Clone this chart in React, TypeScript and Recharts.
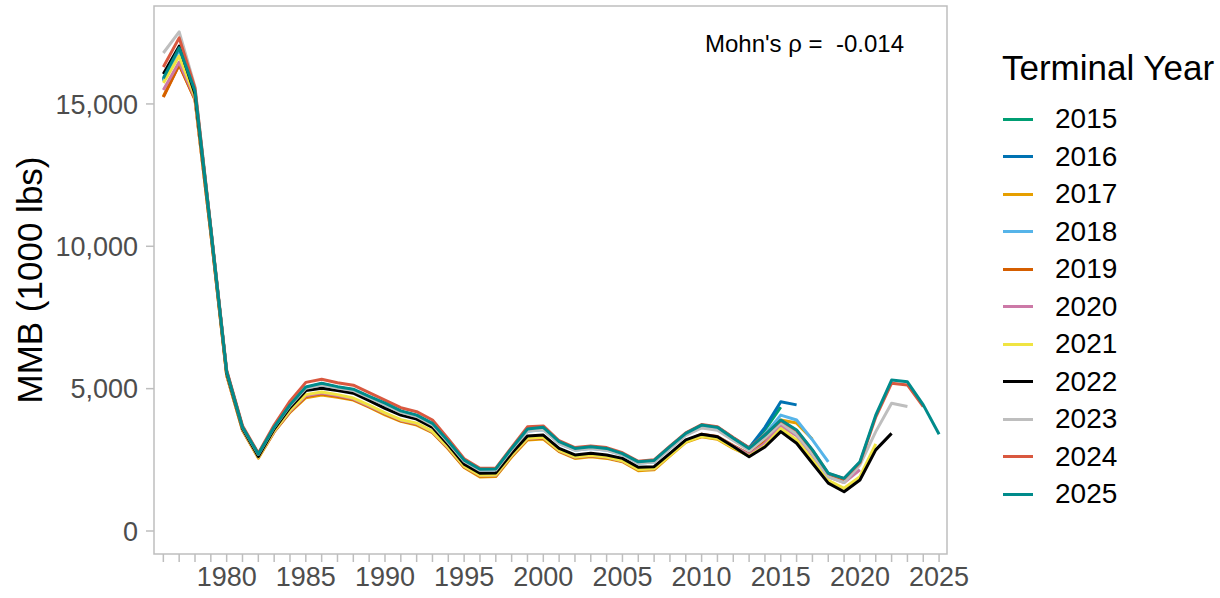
import React from 'react';
import { LineChart, Line, XAxis, YAxis, ReferenceArea } from 'recharts';

// years on the x axis
const years = [
  1976, 1977, 1978, 1979, 1980, 1981, 1982, 1983, 1984, 1985,
  1986, 1987, 1988, 1989, 1990, 1991, 1992, 1993, 1994, 1995,
  1996, 1997, 1998, 1999, 2000, 2001, 2002, 2003, 2004, 2005,
  2006, 2007, 2008, 2009, 2010, 2011, 2012, 2013, 2014, 2015,
  2016, 2017, 2018, 2019, 2020, 2021, 2022, 2023, 2024, 2025,
];
const xLabelYears = [1980, 1985, 1990, 1995, 2000, 2005, 2010, 2015, 2020, 2025];
const yTicks = [0, 5000, 10000, 15000];

// MMB estimates per terminal year (1000 lbs), starting 1976
const mmb2015 = [
  15820, 16930, 15430, 10590, 5590, 3640, 2690, 3640, 4410, 5030,
  5160, 5040, 4950, 4700, 4460, 4190, 4050, 3750, 3130, 2470,
  2150, 2160, 2880, 3550, 3610, 3120, 2880, 2940, 2880, 2700,
  2410, 2460, 2940, 3410, 3700, 3630, 3260, 2910, 3550, 4350,
];
const mmb2016 = [
  15850, 16950, 15450, 10600, 5600, 3650, 2700, 3650, 4420, 5040,
  5170, 5050, 4960, 4710, 4470, 4200, 4060, 3760, 3140, 2480,
  2160, 2170, 2890, 3560, 3620, 3130, 2890, 2950, 2890, 2710,
  2420, 2470, 2950, 3420, 3710, 3640, 3270, 2920, 3640, 4540,
  4430,
];
const mmb2017 = [
  15260, 16380, 15150, 10450, 5470, 3540, 2560, 3480, 4170, 4680,
  4780, 4700, 4600, 4350, 4080, 3850, 3720, 3450, 2880, 2230,
  1900, 1910, 2600, 3200, 3230, 2790, 2550, 2610, 2550, 2430,
  2120, 2150, 2640, 3110, 3310, 3220, 2900, 2650, 3200, 3900,
  3790, 3220,
];
const mmb2018 = [
  15800, 16900, 15400, 10580, 5590, 3630, 2680, 3620, 4380, 4980,
  5100, 4990, 4900, 4650, 4400, 4140, 4000, 3710, 3090, 2440,
  2120, 2130, 2840, 3500, 3560, 3070, 2840, 2900, 2840, 2670,
  2380, 2420, 2900, 3380, 3660, 3580, 3210, 2870, 3400, 4070,
  3900, 3200, 2430,
];
const mmb2019 = [
  15240, 16370, 15150, 10450, 5480, 3550, 2590, 3490, 4190, 4720,
  4820, 4730, 4620, 4370, 4110, 3870, 3750, 3470, 2900, 2250,
  1930, 1940, 2630, 3230, 3260, 2810, 2580, 2640, 2580, 2450,
  2150, 2180, 2680, 3160, 3400, 3320, 3000, 2700, 3130, 3750,
  3400, 2700, 1950, 1800,
];
const mmb2020 = [
  15490, 16470, 15200, 10480, 5490, 3560, 2600, 3500, 4210, 4750,
  4850, 4760, 4640, 4390, 4130, 3890, 3770, 3480, 2920, 2270,
  1950, 1960, 2650, 3250, 3280, 2820, 2590, 2650, 2590, 2460,
  2160, 2190, 2680, 3150, 3380, 3300, 2980, 2680, 3080, 3700,
  3350, 2650, 1900, 1700, 2150,
];
const mmb2021 = [
  15740, 16680, 15250, 10500, 5500, 3570, 2590, 3520, 4240, 4790,
  4880, 4790, 4670, 4420, 4150, 3910, 3790, 3500, 2940, 2280,
  1960, 1970, 2660, 3260, 3290, 2830, 2600, 2660, 2600, 2470,
  2160, 2190, 2660, 3130, 3330, 3250, 2930, 2630, 2990, 3600,
  3200, 2500, 1780, 1500, 1910, 3060,
];
const mmb2022 = [
  16050, 17030, 15350, 10550, 5550, 3600, 2620, 3580, 4330, 4930,
  5010, 4930, 4840, 4580, 4310, 4070, 3930, 3640, 3030, 2350,
  2030, 2040, 2730, 3340, 3370, 2900, 2670, 2730, 2670, 2550,
  2240, 2260, 2730, 3200, 3400, 3310, 2970, 2610, 2950, 3490,
  3080, 2380, 1680, 1380, 1790, 2850, 3430,
];
const mmb2023 = [
  16790, 17530, 15600, 10620, 5620, 3640, 2690, 3640, 4400, 5010,
  5130, 5020, 4930, 4680, 4430, 4170, 4020, 3730, 3110, 2450,
  2130, 2140, 2850, 3510, 3560, 3070, 2840, 2900, 2840, 2670,
  2380, 2420, 2890, 3360, 3620, 3540, 3180, 2820, 3260, 3800,
  3400, 2700, 1900, 1700, 2320, 3490, 4490, 4370,
];
const mmb2024 = [
  16300, 17320, 15550, 10650, 5650, 3700, 2730, 3720, 4560, 5220,
  5330, 5210, 5120, 4860, 4600, 4330, 4190, 3900, 3230, 2540,
  2200, 2210, 2940, 3660, 3690, 3170, 2930, 2990, 2930, 2750,
  2450, 2500, 2980, 3450, 3740, 3660, 3280, 2920, 3380, 3880,
  3530, 2840, 2020, 1840, 2400, 4000, 5190, 5130, 4370,
];
const mmb2025 = [
  15900, 16970, 15450, 10600, 5600, 3650, 2700, 3650, 4430, 5060,
  5190, 5070, 4980, 4730, 4490, 4220, 4070, 3780, 3150, 2490,
  2170, 2180, 2900, 3580, 3640, 3140, 2900, 2960, 2900, 2720,
  2430, 2480, 2960, 3430, 3720, 3640, 3260, 2900, 3370, 3900,
  3550, 2850, 2030, 1850, 2430, 4070, 5300, 5240, 4430, 3400,
];

const series = [
  { key: '2015', values: mmb2015, color: '#009E73' },
  { key: '2016', values: mmb2016, color: '#0072B2' },
  { key: '2017', values: mmb2017, color: '#E69F00' },
  { key: '2018', values: mmb2018, color: '#56B4E9' },
  { key: '2019', values: mmb2019, color: '#D55E00' },
  { key: '2020', values: mmb2020, color: '#CC79A7' },
  { key: '2021', values: mmb2021, color: '#F0E442' },
  { key: '2022', values: mmb2022, color: '#000000' },
  { key: '2023', values: mmb2023, color: '#BEBEBE' },
  { key: '2024', values: mmb2024, color: '#D9583F' },
  { key: '2025', values: mmb2025, color: '#008B8B' },
];

const data = years.map((year, i) => {
  const row: Record<string, number | null> = { year };
  series.forEach((s) => {
    row['y' + s.key] = i < s.values.length ? s.values[i] : null;
  });
  return row;
});

const font = '"Liberation Sans", Arial, sans-serif';
const xMin = 1975.41;
const xMax = 2025.5;
const yMin = -808;
const yMax = 18440;

export default function App() {
  return (
    <div style={{ position: 'absolute', left: 0, top: 0, width: 1220, height: 598, background: '#fff', fontFamily: font }}>
      <LineChart
        width={1220}
        height={598}
        data={data}
        margin={{ top: 6, right: 273, bottom: 0, left: 0 }}
      >
        <XAxis
          dataKey="year"
          type="number"
          domain={[xMin, xMax]}
          ticks={years}
          interval={0}
          allowDataOverflow
          tickFormatter={(v: number) => (xLabelYears.includes(v) ? String(v) : '')}
          tick={{ fill: '#4D4D4D', fontSize: 27, fontFamily: font }}
          tickSize={8}
          tickMargin={5}
          tickLine={{ stroke: '#BEBEBE', strokeWidth: 1.5 }}
          axisLine={false}
          height={44}
        />
        <YAxis
          type="number"
          domain={[yMin, yMax]}
          ticks={yTicks}
          allowDataOverflow
          tickFormatter={(v: number) => v.toLocaleString('en-US')}
          tick={{ fill: '#4D4D4D', fontSize: 27, fontFamily: font }}
          tickSize={8}
          tickMargin={8}
          tickLine={{ stroke: '#BEBEBE', strokeWidth: 1.5 }}
          axisLine={false}
          width={154}
          label={{
            value: 'MMB (1000 lbs)',
            angle: -90,
            position: 'insideLeft',
            offset: 30,
            style: { fill: '#000', fontSize: 35, fontFamily: font, textAnchor: 'middle' },
          }}
        />
        <ReferenceArea
          x1={xMin}
          x2={xMax}
          y1={yMin}
          y2={yMax}
          fill="none"
          stroke="#BEBEBE"
          strokeWidth={1.5}
          ifOverflow="visible"
        />
        {series.map((s) => (
          <Line
            key={s.key}
            dataKey={'y' + s.key}
            stroke={s.color}
            strokeWidth={3}
            dot={false}
            activeDot={false}
            connectNulls={false}
            isAnimationActive={false}
            strokeLinejoin="round"
          />
        ))}
      </LineChart>
      <div style={{ position: 'absolute', left: 705, top: 30, fontSize: 24, lineHeight: '28px', color: '#000', whiteSpace: 'pre' }}>
        {"Mohn's ρ =  -0.014"}
      </div>
      <div style={{ position: 'absolute', left: 1002, top: 47, fontSize: 35, lineHeight: '42px', color: '#000', whiteSpace: 'pre' }}>
        Terminal Year
      </div>
      {series.map((s, i) => (
        <div key={s.key} style={{ position: 'absolute', left: 1003, top: 102 + i * 37.5, height: 34, display: 'flex', alignItems: 'center' }}>
          <div style={{ width: 30, height: 3, background: s.color }} />
          <span style={{ marginLeft: 22, fontSize: 28, lineHeight: '34px', color: '#000' }}>{s.key}</span>
        </div>
      ))}
    </div>
  );
}
